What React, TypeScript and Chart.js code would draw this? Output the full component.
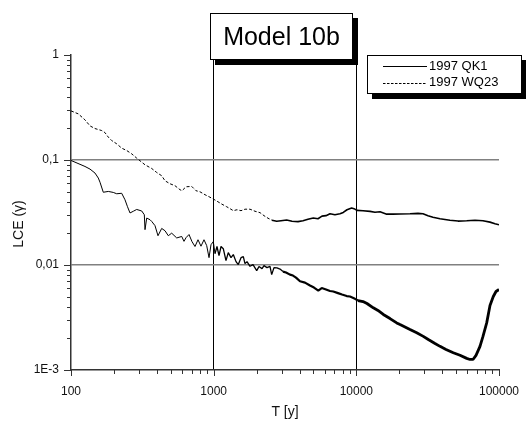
import React, { useEffect, useRef } from 'react';
import { Chart, registerables } from 'chart.js';

Chart.register(...registerables);

// ---- data ----
const qk1T = [100, 125.3, 135.9, 147.3, 155.4, 159.7, 168.4, 182.6, 197.9, 209.1, 226.6, 239, 248.9, 259.2, 273.4, 288.7, 313.1, 326.5, 330.2, 339.4, 357.9, 367.9, 388, 407.2, 432.2, 456, 480.8, 507.9, 550.8, 597, 619.5, 639.9, 671.6, 704.9, 739.8, 776.6, 815.1, 855.5, 893.6, 927.7, 957.8, 994.1, 1022, 1055, 1090, 1126, 1168, 1220, 1266, 1323, 1373, 1434, 1488, 1555, 1614, 1658, 1713, 1797, 1887, 2003, 2078, 2183, 2253, 2365, 2482, 2551, 2648, 2779, 2917, 3062, 3214, 3428, 3597, 3777, 4029, 4366, 4733, 5049, 5413, 5718, 6129, 6538, 6896, 7438, 7934, 8560, 9027, 9786, 10271, 11135, 11877, 13149, 14183, 15453, 17218, 19187, 20236, 21932, 23775, 26497, 29472, 31946, 35594, 38590, 42505, 47821, 53281, 59364, 62613, 65725, 68995, 73577, 77219, 81984, 86466, 91201, 95266, 100000];
const qk1V = [0.099, 0.0868, 0.0819, 0.0751, 0.0673, 0.0614, 0.0493, 0.0502, 0.0491, 0.0477, 0.0482, 0.0418, 0.0359, 0.0313, 0.0325, 0.0338, 0.0327, 0.0301, 0.0217, 0.028, 0.027, 0.026, 0.0237, 0.019, 0.0223, 0.0212, 0.019, 0.0201, 0.0181, 0.0187, 0.0168, 0.0182, 0.0195, 0.0167, 0.015, 0.0174, 0.0151, 0.0174, 0.0153, 0.01175, 0.0156, 0.0167, 0.01283, 0.015, 0.01228, 0.015, 0.0143, 0.011, 0.01312, 0.01175, 0.01256, 0.01077, 0.01009, 0.01175, 0.01202, 0.01031, 0.01077, 0.00972, 0.01009, 0.00885, 0.00966, 0.00924, 0.00987, 0.00944, 0.00972, 0.0081, 0.00944, 0.00938, 0.00914, 0.00865, 0.00847, 0.0081, 0.00793, 0.00759, 0.007, 0.0068, 0.00637, 0.0061, 0.00571, 0.00603, 0.00584, 0.00565, 0.00559, 0.0054, 0.00523, 0.00506, 0.00501, 0.00476, 0.00459, 0.00449, 0.0043, 0.00391, 0.00369, 0.00338, 0.00309, 0.00281, 0.00271, 0.00257, 0.00243, 0.00226, 0.00209, 0.00195, 0.00179, 0.00168, 0.00157, 0.00146, 0.00138, 0.00129, 0.00126, 0.00126, 0.00138, 0.00168, 0.00209, 0.00281, 0.00411, 0.00501, 0.00559, 0.00584];

const wq23T = [100, 112.5, 125.3, 135.9, 147.3, 164.2, 172.9, 182.6, 192.9, 209.1, 226.6, 245.7, 266.3, 288.7, 304.6, 330.2, 367.9, 398.7, 432.2, 456, 494.3, 535.8, 581, 600, 640, 702, 751.9, 802, 869.5, 927.7, 994, 1072, 1144, 1233, 1302, 1374, 1457, 1555, 1658, 1797, 1949, 2114, 2253, 2404, 2563, 2766, 2965, 3250, 3540, 3900, 4227, 4583, 4990, 5386, 5744, 6129, 6538, 7080, 7680, 8100, 8600, 9270, 9630, 10107, 11135, 12480, 13510, 14660, 16330, 18070, 20230, 23775, 27050, 29330, 31790, 34450, 38590, 45300, 51590, 59400, 67900, 77220, 86470, 93730, 100000];
const wq23V = [0.2936, 0.2749, 0.2411, 0.2113, 0.1993, 0.1907, 0.1825, 0.1651, 0.1532, 0.1426, 0.1297, 0.1231, 0.1145, 0.1042, 0.0983, 0.09, 0.083, 0.0761, 0.0708, 0.0634, 0.0594, 0.0569, 0.0521, 0.051, 0.0556, 0.056, 0.051, 0.0498, 0.0467, 0.0447, 0.0425, 0.04, 0.0379, 0.0359, 0.0344, 0.0329, 0.0336, 0.0329, 0.034, 0.034, 0.0325, 0.0315, 0.0295, 0.0279, 0.0267, 0.0261, 0.0264, 0.0268, 0.0261, 0.0259, 0.0264, 0.0273, 0.028, 0.0276, 0.0292, 0.0295, 0.0308, 0.0301, 0.0308, 0.0317, 0.0336, 0.0349, 0.0344, 0.0331, 0.0329, 0.0324, 0.0318, 0.0322, 0.0305, 0.0305, 0.0306, 0.0308, 0.031, 0.0308, 0.0295, 0.0285, 0.0276, 0.0267, 0.0262, 0.0264, 0.0267, 0.0264, 0.0256, 0.0247, 0.0242];

const seriesNames = ['1997 QK1', '1997 WQ23'];
const chartTitle = 'Model 10b';
const xAxisTitle = 'T [y]';
const yAxisTitle = 'LCE (\u03b3)';

const xMajorTicks = [100, 1000, 10000, 100000];
const xTickLabels = ['100', '1000', '10000', '100000'];
const yMajorTicks = [0.001, 0.01, 0.1, 1];
const yTickLabels = ['1E-3', '0,01', '0,1', '1'];
const xGridAt = [1000, 10000];
const yGridAt = [0.01, 0.1];

const FONT = '"Liberation Sans", Arial, Helvetica, sans-serif';

const near = (a: number, b: number) => Math.abs(a / b - 1) < 1e-6;
const majorIndex = (v: number, majors: number[]) => majors.findIndex((m) => near(v, m));

function logTicks(majors: number[]) {
  const out: { value: number; major: boolean }[] = [];
  for (let i = 0; i < majors.length - 1; i++) {
    for (let k = 1; k <= 9; k++) out.push({ value: majors[i] * k, major: k === 1 });
  }
  out.push({ value: majors[majors.length - 1], major: true });
  return out;
}

const zeroPad = (s: any) => {
  s.paddingLeft = 0;
  s.paddingRight = 0;
  s.paddingTop = 0;
  s.paddingBottom = 0;
};

const decorPlugin = {
  id: 'decor',
  afterDraw(chart: any) {
    const { ctx, chartArea } = chart;
    const xs = chart.scales.x;
    const ys = chart.scales.y;
    ctx.save();
    // tick marks (outside)
    ctx.strokeStyle = '#333';
    ctx.lineWidth = 1;
    xs.ticks.forEach((t: any) => {
      const px = Math.round(xs.getPixelForValue(t.value)) + 0.5;
      const len = majorIndex(t.value, xMajorTicks) >= 0 ? 6 : 4;
      ctx.beginPath();
      ctx.moveTo(px, chartArea.bottom);
      ctx.lineTo(px, chartArea.bottom + len);
      ctx.stroke();
    });
    ys.ticks.forEach((t: any) => {
      const py = Math.round(ys.getPixelForValue(t.value)) + 0.5;
      const len = majorIndex(t.value, yMajorTicks) >= 0 ? 7 : 4;
      ctx.beginPath();
      ctx.moveTo(chartArea.left, py);
      ctx.lineTo(chartArea.left - len, py);
      ctx.stroke();
    });

    // axis titles
    ctx.fillStyle = '#111';
    ctx.font = `14px ${FONT}`;
    ctx.textAlign = 'center';
    ctx.textBaseline = 'middle';
    ctx.fillText(xAxisTitle, (chartArea.left + chartArea.right) / 2, 412);
    ctx.save();
    ctx.translate(19, 224);
    ctx.rotate(-Math.PI / 2);
    ctx.fillText(yAxisTitle, 0, 0);
    ctx.restore();

    // title box with shadow
    const tb = { x: 210, y: 13, w: 142, h: 46 };
    ctx.fillStyle = '#000';
    ctx.fillRect(tb.x + 5, tb.y + 5, tb.w + 1, tb.h + 1);
    ctx.fillStyle = '#fff';
    ctx.fillRect(tb.x, tb.y, tb.w, tb.h);
    ctx.strokeStyle = '#000';
    ctx.lineWidth = 1;
    ctx.strokeRect(tb.x + 0.5, tb.y + 0.5, tb.w, tb.h);
    ctx.fillStyle = '#000';
    ctx.font = `25px ${FONT}`;
    ctx.textAlign = 'center';
    ctx.textBaseline = 'alphabetic';
    ctx.fillText(chartTitle, tb.x + tb.w / 2 + 0.5, 45);

    // legend box with shadow
    const lb = { x: 367, y: 55, w: 154, h: 38 };
    ctx.fillStyle = '#000';
    ctx.fillRect(lb.x + 5, lb.y + 5, lb.w + 1, lb.h + 1);
    ctx.fillStyle = '#fff';
    ctx.fillRect(lb.x, lb.y, lb.w, lb.h);
    ctx.strokeStyle = '#000';
    ctx.strokeRect(lb.x + 0.5, lb.y + 0.5, lb.w, lb.h);
    const rows = [66, 82.5];
    rows.forEach((ry, i) => {
      ctx.beginPath();
      ctx.setLineDash(i === 0 ? [] : [2.5, 1.5]);
      ctx.lineWidth = 1;
      ctx.moveTo(383, Math.round(ry) + 0.5);
      ctx.lineTo(427, Math.round(ry) + 0.5);
      ctx.stroke();
      ctx.setLineDash([]);
      ctx.fillStyle = '#000';
      ctx.font = `13px ${FONT}`;
      ctx.textAlign = 'left';
      ctx.textBaseline = 'middle';
      ctx.fillText(seriesNames[i], 429, ry);
    });
    ctx.restore();
  },
};

export default function App() {
  const ref = useRef<HTMLCanvasElement | null>(null);

  useEffect(() => {
    document.body.style.margin = '0';
    const canvas = ref.current;
    if (!canvas) return;
    const chart = new Chart(canvas, {
      type: 'line',
      data: {
        datasets: [
          {
            label: seriesNames[0],
            data: qk1T.map((t, i) => ({ x: t, y: qk1V[i] })),
            borderColor: '#000',
            borderWidth: 1,
            pointRadius: 0,
            tension: 0,
            borderJoinStyle: 'bevel',
            segment: {
              borderWidth: (c: any) =>
                c.p0.parsed.x >= 10000 ? 2.8 : c.p0.parsed.x >= 3000 ? 2.2 : c.p0.parsed.x >= 1000 ? 1.3 : 1,
            },
          },
          {
            label: seriesNames[1],
            data: wq23T.map((t, i) => ({ x: t, y: wq23V[i] })),
            borderColor: '#000',
            borderWidth: 1,
            pointRadius: 0,
            tension: 0,
            borderJoinStyle: 'bevel',
            segment: {
              borderDash: (c: any) => (c.p0.parsed.x < 2500 ? [3, 2] : []),
              borderWidth: (c: any) => (c.p0.parsed.x < 2500 ? 1 : 1.6),
            },
          },
        ],
      },
      options: {
        responsive: false,
        animation: false,
        events: [],
        layout: { padding: { top: 55, right: 27, left: 0, bottom: 0 } },
        plugins: {
          legend: { display: false },
          title: { display: false },
          tooltip: { enabled: false },
        },
        scales: {
          x: {
            type: 'logarithmic',
            min: 100,
            max: 100000,
            afterBuildTicks: (s: any) => {
              s.ticks = logTicks(xMajorTicks);
            },
            afterFit: (s: any) => {
              s.height = 51;
              zeroPad(s);
            },
            ticks: {
              autoSkip: false,
              maxRotation: 0,
              padding: 14,
              color: '#111',
              font: { family: FONT, size: 12 },
              callback: (v: any) => {
                const i = majorIndex(Number(v), xMajorTicks);
                return i >= 0 ? xTickLabels[i] : '';
              },
            },
            grid: {
              drawTicks: false,
              color: (c: any) => (c.tick && xGridAt.some((g) => near(c.tick.value, g)) ? '#000' : 'rgba(0,0,0,0)'),
              lineWidth: 1,
            },
            border: { display: true, color: '#333', width: 1.5 },
          },
          y: {
            type: 'logarithmic',
            min: 0.001,
            max: 1,
            afterBuildTicks: (s: any) => {
              s.ticks = logTicks(yMajorTicks);
            },
            afterFit: (s: any) => {
              s.width = 71;
              zeroPad(s);
            },
            ticks: {
              autoSkip: false,
              padding: 12,
              color: '#111',
              font: { family: FONT, size: 12 },
              callback: (v: any) => {
                const i = majorIndex(Number(v), yMajorTicks);
                return i >= 0 ? yTickLabels[i] : '';
              },
            },
            grid: {
              drawTicks: false,
              color: (c: any) => (c.tick && yGridAt.some((g) => near(c.tick.value, g)) ? '#808080' : 'rgba(0,0,0,0)'),
              lineWidth: 1.5,
            },
            border: { display: true, color: '#333', width: 1.5 },
          },
        },
      },
      plugins: [decorPlugin],
    } as any);
    return () => chart.destroy();
  }, []);

  return (
    <div style={{ width: 526, height: 421, background: '#fff' }}>
      <canvas ref={ref} width={526} height={421} style={{ display: 'block' }} />
    </div>
  );
}
